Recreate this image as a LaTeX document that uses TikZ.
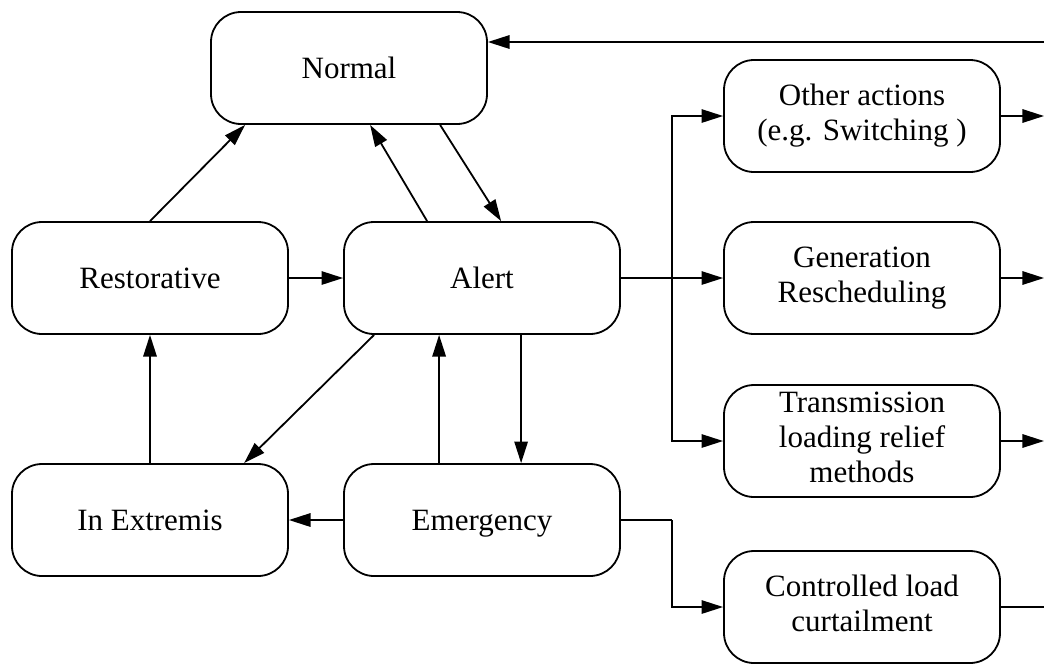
\documentclass[tikz,border=0pt]{standalone}
\usepackage{fontspec}
\newfontfamily\lserif{Liberation Serif}
\newcommand\mystrut{\rule[-3.65pt]{0pt}{17.5pt}}
\usetikzlibrary{arrows.meta,calc}
\begin{document}
\begin{tikzpicture}[x=0.5pt,y=-0.5pt,
  state/.style={draw,line width=0.9pt,rounded corners=15pt,minimum width=138pt,minimum height=56pt,
    align=center,inner sep=0pt,font=\lserif\fontsize{15.5}{17.5}\selectfont,
    execute at begin node=\mystrut,execute at end node=\mystrut},
  conn/.style={line width=0.9pt,-{Triangle[length=10.8pt,width=6.7pt]}},
  plain/.style={line width=0.9pt}]
\useasboundingbox (0,0) rectangle (1044,666);
\node[state] (normal) at (349,68) {Normal};
\node[state] (restor) at (150,278) {Restorative};
\node[state] (alert) at (482,278) {Alert};
\node[state] (extrem) at (150,520) {In Extremis};
\node[state] (emerg) at (482,520) {Emergency};
\node[state] (other) at (862,116) {Other actions\\(e.g. Switching )};
\node[state] (gen) at (862,278) {Generation\\Rescheduling};
\node[state] (trans) at (862,441) {Transmission\\loading relief\\methods};
\node[state] (ctrl) at (862,607) {Controlled load\\curtailment};
\coordinate (topr) at (1044,42);
\coordinate (r1) at (1044,116);
\coordinate (r2) at (1044,278);
\coordinate (r3) at (1044,441);
\coordinate (r4) at (1044,607);
\coordinate (bx) at (672,278);
\coordinate (ex) at (672,520);
% diagonal and vertical connectors
\draw[conn] (restor.north) -- ($(normal.south west)+(35,0)$);
\draw[conn] ($(alert.north west)+(84,0)$) -- ($(normal.south west)+(160,0)$);
\draw[conn] ($(normal.south west)+(230,0)$) -- ($(alert.north west)+(158,0)$);
\draw[conn] (restor.east) -- (alert.west);
\draw[conn] (extrem.north) -- (restor.south);
\draw[conn] ($(alert.south west)+(31,0)$) -- ($(extrem.north west)+(233,0)$);
\draw[conn] ($(emerg.north west)+(96,0)$) -- ($(alert.south west)+(96,0)$);
\draw[conn] ($(alert.south west)+(178,0)$) -- ($(emerg.north west)+(178,0)$);
\draw[conn] (emerg.west) -- (extrem.east);
% branches
\draw[plain] (alert.east) -- (bx);
\draw[conn] (bx) -- (gen.west);
\draw[conn] (bx) |- (other.west);
\draw[conn] (bx) |- (trans.west);
\draw[plain] (emerg.east) -- (ex);
\draw[conn] (ex) |- (ctrl.west);
% right edge
\draw[conn] (topr) -- (topr -| normal.east);
\draw[conn] (other.east) -- (r1);
\draw[conn] (gen.east) -- (r2);
\draw[conn] (trans.east) -- (r3);
\draw[plain] (ctrl.east) -- (r4);
\end{tikzpicture}
\end{document}
